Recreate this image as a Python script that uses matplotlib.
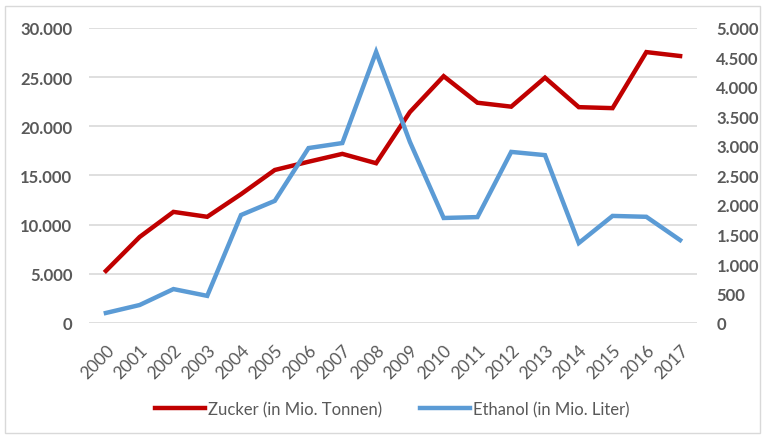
import numpy as np
import matplotlib.pyplot as plt
from matplotlib.ticker import FuncFormatter, MultipleLocator
from matplotlib.patches import Rectangle

# Daten
jahre = [str(j) for j in range(2000, 2018)]
zucker = [5300, 8750, 11300, 10800, 13100, 15560, 16400, 17200, 16250, 21450,
          25100, 22400, 22000, 24950, 21950, 21850, 27550, 27150]
ethanol = [170, 305, 575, 460, 1830, 2070, 2965, 3050, 4595, 3070,
           1780, 1795, 2900, 2845, 1355, 1815, 1800, 1405]

grau = "#595959"
rot = "#C00000"
blau = "#5B9BD5"

plt.rcParams['font.family'] = ['Lato', 'DejaVu Sans']

fig = plt.figure(figsize=(7.66, 4.39), dpi=100)
ax = fig.add_axes([89/766, 1-324/439, 608/766, 295/439])
ax2 = ax.twinx()

x = np.arange(len(jahre))
l1, = ax.plot(x, zucker, color=rot, lw=3.2, solid_joinstyle="miter", zorder=3)
l2, = ax2.plot(x, ethanol, color=blau, lw=3.2, solid_joinstyle="miter", zorder=3)

tausend = FuncFormatter(lambda v, p: f"{int(v):,}".replace(",", "."))

ax.set_xlim(-0.5, len(jahre) - 0.5)
ax.set_ylim(0, 30000)
ax.yaxis.set_major_locator(MultipleLocator(5000))
ax.yaxis.set_major_formatter(tausend)
ax2.set_ylim(0, 5000)
ax2.yaxis.set_major_locator(MultipleLocator(500))
ax2.yaxis.set_major_formatter(tausend)

ax.grid(axis="y", color="#D9D9D9", lw=1.2, zorder=0)
ax.set_axisbelow(True)
for a in (ax, ax2):
    for s in a.spines.values():
        s.set_visible(False)
    a.tick_params(length=0)

ax.set_xticks(x)
ax.set_xticklabels(jahre, rotation=45, ha="right", rotation_mode="anchor",
                   fontsize=12.5, color=grau)
ax.tick_params(axis="x", pad=13)
for t in ax.get_yticklabels():
    t.set_fontsize(12)
    t.set_fontweight("bold")
    t.set_color(grau)
ax.tick_params(axis="y", pad=12)
for t in ax2.get_yticklabels():
    t.set_fontsize(12)
    t.set_fontweight("bold")
    t.set_color(grau)
ax2.tick_params(axis="y", pad=14)

fig.legend([l1, l2], ["Zucker (in Mio. Tonnen)", "Ethanol (in Mio. Liter)"],
           loc="center", bbox_to_anchor=(0.512, 1-410/439), ncol=2, frameon=False,
           fontsize=12, labelcolor=grau, handlelength=3.0, handletextpad=0.15,
           columnspacing=2.3)

fig.patches.append(Rectangle((5/766, 5/439), 755/766, 427/439, transform=fig.transFigure,
                             fill=False, edgecolor="#D9D9D9", lw=1))

fig.savefig("out.png", dpi=100)
